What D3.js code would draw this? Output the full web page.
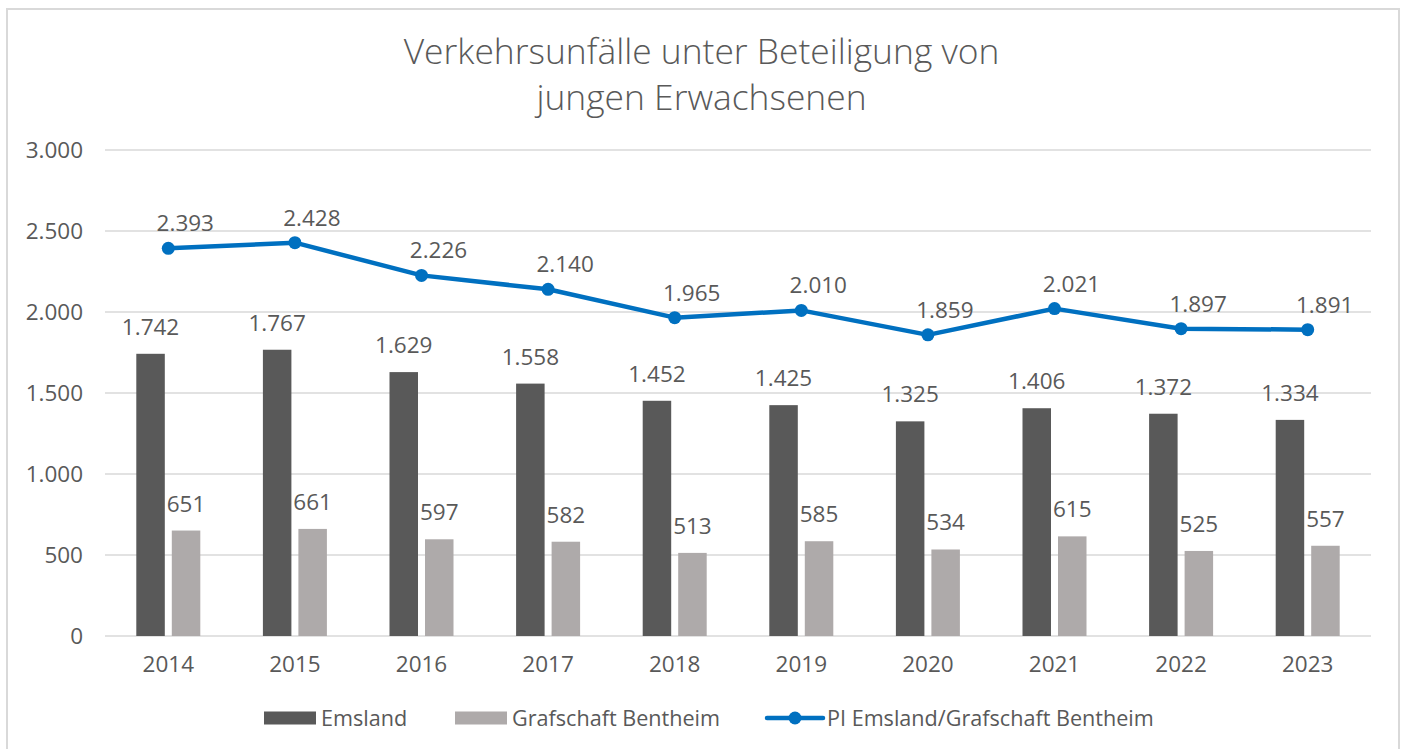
<!DOCTYPE html>
<html>
<head>
<meta charset="utf-8">
<script src="https://cdn.jsdelivr.net/npm/d3@7"></script>
<style>
  body { margin: 0; background: #fff; }
  svg text { font-family: "Open Sans", "Noto Sans", sans-serif; fill: #595959; }
</style>
</head>
<body>
<svg id="chart"></svg>
<script>
// Data
const years = ['2014', '2015', '2016', '2017', '2018', '2019', '2020', '2021', '2022', '2023'];
const emsland = [1742, 1767, 1629, 1558, 1452, 1425, 1325, 1406, 1372, 1334];
const grafschaft = [651, 661, 597, 582, 513, 585, 534, 615, 525, 557];
const piTotal = [2393, 2428, 2226, 2140, 1965, 2010, 1859, 2021, 1897, 1891];
const yTicks = [0, 500, 1000, 1500, 2000, 2500, 3000];
const titleLines = ['Verkehrsunfälle unter Beteiligung von', 'jungen Erwachsenen'];

const seriesNames = ['Emsland', 'Grafschaft Bentheim', 'PI Emsland/Grafschaft Bentheim'];
const colors = { emsland: '#595959', grafschaft: '#AEAAAA', pi: '#0070C0', grid: '#D9D9D9' };

const width = 1403, height = 749;
const margin = { top: 150, right: 32, bottom: 113, left: 105 };
const innerW = width - margin.left - margin.right;
const innerH = height - margin.top - margin.bottom;
const numSize = 22.5;

const fmt = d3.formatLocale({ decimal: ',', thousands: '.', grouping: [3], currency: ['', '€'] }).format(',d');

const svg = d3.select('#chart')
    .attr('width', width)
    .attr('height', height);

// outer frame
svg.append('rect')
    .attr('x', 7).attr('y', 9)
    .attr('width', 1392).attr('height', 760)
    .attr('fill', 'none')
    .attr('stroke', colors.grid)
    .attr('stroke-width', 2);

// title
svg.append('text')
    .attr('text-anchor', 'middle')
    .attr('font-size', 35.4)
    .attr('font-weight', 300)
    .selectAll('tspan')
    .data(titleLines)
  .join('tspan')
    .attr('x', width / 2)
    .attr('y', (d, i) => 64 + i * 46)
    .text(d => d);

const g = svg.append('g')
    .attr('transform', `translate(${margin.left},${margin.top})`);

const x = d3.scaleBand().domain(years).range([0, innerW]).padding(0);
const y = d3.scaleLinear().domain([0, 3000]).range([innerH, 0]);

const barW = 28.5, barGap = 7;

// gridlines
g.append('g')
    .selectAll('line')
    .data(yTicks)
  .join('line')
    .attr('x1', 0).attr('x2', innerW)
    .attr('y1', d => y(d)).attr('y2', d => y(d))
    .attr('stroke', colors.grid)
    .attr('stroke-width', 1.5);

// y axis labels
const yAxis = g.append('g')
    .call(d3.axisLeft(y).tickValues(yTicks).tickFormat(fmt).tickSize(0).tickPadding(22));
yAxis.select('.domain').remove();
yAxis.selectAll('text')
    .attr('font-size', numSize)
    .style('font-family', '"Open Sans", sans-serif')
    .attr('fill', '#595959');

// x axis labels
const xAxis = g.append('g')
    .attr('transform', `translate(0,${innerH})`)
    .call(d3.axisBottom(x).tickSize(0).tickPadding(20));
xAxis.select('.domain').remove();
xAxis.selectAll('text')
    .attr('font-size', numSize)
    .style('font-family', '"Open Sans", sans-serif')
    .attr('fill', '#595959');

const cx = d => x(d) + x.bandwidth() / 2;

// bars
const bars = [
  { values: emsland, color: colors.emsland, off: -barGap / 2 - barW },
  { values: grafschaft, color: colors.grafschaft, off: barGap / 2 }
];
bars.forEach(s => {
  g.append('g')
      .selectAll('rect')
      .data(years)
    .join('rect')
      .attr('x', (d) => cx(d) + s.off)
      .attr('y', (d, i) => y(s.values[i]))
      .attr('width', barW)
      .attr('height', (d, i) => innerH - y(s.values[i]))
      .attr('fill', s.color);

  g.append('g')
      .selectAll('text')
      .data(years)
    .join('text')
      .attr('x', d => cx(d) + s.off + barW / 2)
      .attr('y', (d, i) => y(s.values[i]) - 19)
      .attr('text-anchor', 'middle')
      .attr('font-size', numSize)
      .text((d, i) => fmt(s.values[i]));
});

// line
const line = d3.line()
    .x((d, i) => cx(years[i]))
    .y(d => y(d));

g.append('path')
    .datum(piTotal)
    .attr('d', line)
    .attr('fill', 'none')
    .attr('stroke', colors.pi)
    .attr('stroke-width', 4.5)
    .attr('stroke-linejoin', 'round');

g.append('g')
    .selectAll('circle')
    .data(piTotal)
  .join('circle')
    .attr('cx', (d, i) => cx(years[i]))
    .attr('cy', d => y(d))
    .attr('r', 6.5)
    .attr('fill', colors.pi);

g.append('g')
    .selectAll('text')
    .data(piTotal)
  .join('text')
    .attr('x', (d, i) => cx(years[i]) + 17)
    .attr('y', d => y(d) - 17)
    .attr('text-anchor', 'middle')
    .attr('font-size', numSize)
    .text(d => fmt(d));

// legend
const legend = svg.append('g').attr('transform', 'translate(0,718)');
const legendItems = [
  { name: seriesNames[0], type: 'bar', color: colors.emsland, x: 264 },
  { name: seriesNames[1], type: 'bar', color: colors.grafschaft, x: 455 },
  { name: seriesNames[2], type: 'line', color: colors.pi, x: 767 }
];
legendItems.forEach(item => {
  const li = legend.append('g').attr('transform', `translate(${item.x},0)`);
  if (item.type === 'bar') {
    li.append('rect')
        .attr('x', 0).attr('y', -6.5)
        .attr('width', 52).attr('height', 13)
        .attr('fill', item.color);
  } else {
    li.append('line')
        .attr('x1', 0).attr('x2', 56)
        .attr('y1', 0).attr('y2', 0)
        .attr('stroke', item.color)
        .attr('stroke-width', 4.5)
        .attr('stroke-linecap', 'round');
    li.append('circle')
        .attr('cx', 28).attr('cy', 0).attr('r', 6.5)
        .attr('fill', item.color);
  }
  li.append('text')
      .attr('x', item.type === 'bar' ? 57 : 60)
      .attr('y', 7.5)
      .attr('font-size', 21.6)
      .text(item.name);
});
</script>
</body>
</html>
